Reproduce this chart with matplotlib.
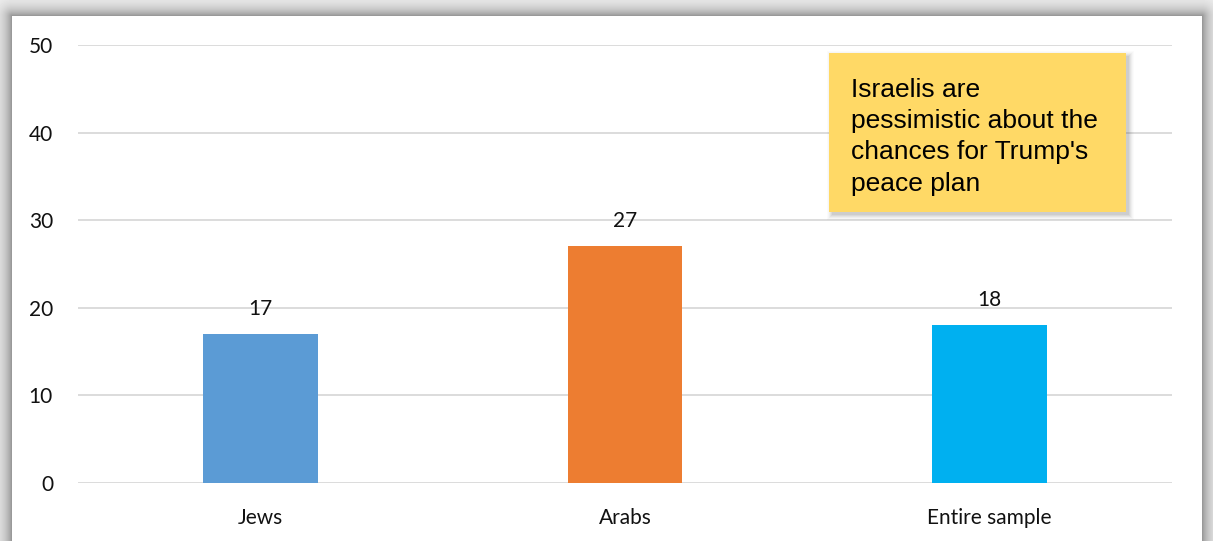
import numpy as np
import matplotlib
matplotlib.use("Agg")
import matplotlib.pyplot as plt
from matplotlib.patches import FancyBboxPatch

categories = ["Jews", "Arabs", "Entire sample"]
values = [17, 27, 18]
colors = ["#5B9BD5", "#ED7D31", "#00B0F0"]
yticks = [0, 10, 20, 30, 40, 50]
note = "Israelis are\npessimistic about the\nchances for Trump's\npeace plan"

W, H = 1213, 541
fig = plt.figure(figsize=(W / 100, H / 100), dpi=100)

# drop-shadow frame around the white panel
bg = fig.add_axes([0, 0, 1, 1], zorder=-5)
bg.set_axis_off()
px0, px1, py0 = 12, 1202, 16
xx, yy = np.meshgrid(np.arange(W) + 0.5, np.arange(H) + 0.5)
dx = np.maximum(np.maximum(px0 - xx, xx - px1), 0)
dy = np.maximum(py0 - yy, 0)
d = np.hypot(dx, dy)
shade = 0.58 + 0.38 * (1 - np.exp(-d / 9.0))
shade[(xx >= px0) & (xx <= px1) & (yy >= py0)] = 1.0
bg.imshow(shade, cmap="gray", vmin=0, vmax=1, extent=[0, W, H, 0],
          interpolation="bilinear", aspect="auto")
bg.set_xlim(0, W)
bg.set_ylim(H, 0)

ax = fig.add_axes([78 / W, 1 - 483 / H, (1172 - 78) / W, (483 - 45) / H])
ax.set_facecolor("none")
x = np.arange(len(categories))
bars = ax.bar(x, values, width=0.315, color=colors, zorder=3)
ax.set_xlim(-0.5, len(categories) - 0.5)
ax.set_ylim(0, 50)
ax.set_yticks(yticks)
ax.set_yticklabels([str(t) for t in yticks])
ax.set_xticks(x)
ax.set_xticklabels(categories)
ax.grid(axis="y", color="#d9d9d9", linewidth=1.3, zorder=0)
for s in ax.spines.values():
    s.set_visible(False)
ax.tick_params(axis="both", length=0, labelsize=15, colors="#000000")
ax.tick_params(axis="y", pad=18)
ax.tick_params(axis="x", pad=18)
for lab in ax.get_xticklabels() + ax.get_yticklabels():
    lab.set_family("Lato")
    lab.set_color("#111111")
for b, v in zip(bars, values):
    ax.annotate(str(v), (b.get_x() + b.get_width() / 2, v), xytext=(0, 11),
                textcoords="offset points", ha="center", va="bottom",
                fontsize=15, family="Lato", color="#111111")

# callout note with a soft offset shadow
bx0, by0, bx1, by1 = 829, 53, 1126, 212
for i, a in enumerate([0.05, 0.045, 0.04, 0.03, 0.02, 0.015]):
    o = i
    fig.patches.append(FancyBboxPatch(((bx0 - o + 3) / W, 1 - (by1 + o + 3) / H),
                                      (bx1 - bx0 + 2 * o) / W, (by1 - by0 + 2 * o) / H,
                                      boxstyle="square,pad=0", transform=fig.transFigure,
                                      facecolor="black", edgecolor="none", alpha=a, zorder=8))
fig.patches.append(FancyBboxPatch((bx0 / W, 1 - by1 / H), (bx1 - bx0) / W, (by1 - by0) / H,
                                  boxstyle="square,pad=0", transform=fig.transFigure,
                                  facecolor="#FFD966", edgecolor="none", zorder=9))
fig.text(851 / W, 1 - 78 / H, note, ha="left", va="top", fontsize=19,
         family="Liberation Sans", color="#000000", linespacing=1.38, zorder=10)

fig.savefig("out.png", dpi=100)
